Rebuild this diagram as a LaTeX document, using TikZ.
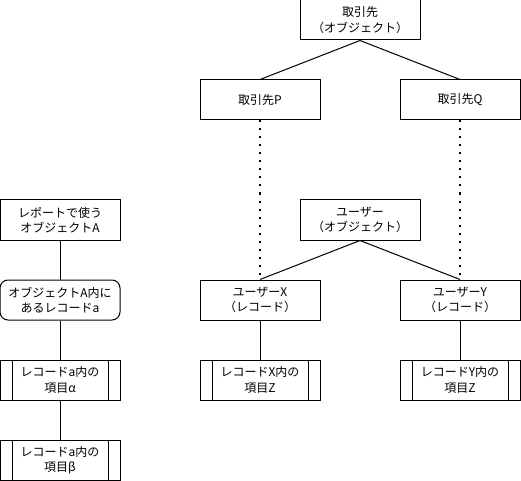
\documentclass[tikz,border=0pt]{standalone}
\usepackage{fontspec}
\setmainfont{Noto Sans CJK JP}
\usetikzlibrary{positioning}

\tikzset{
  box/.style={draw,line width=0.75pt,minimum width=90pt,minimum height=30pt,
    inner sep=0pt,align=center,font=\fontsize{9}{11.5}\selectfont},
  rbox/.style={box,rounded corners=6pt},
  procbox/.style={box,path picture={
      \draw[line width=0.75pt] ([xshift=9pt]path picture bounding box.north west)
        -- ([xshift=9pt]path picture bounding box.south west);
      \draw[line width=0.75pt] ([xshift=-9pt]path picture bounding box.north east)
        -- ([xshift=-9pt]path picture bounding box.south east);}},
  link/.style={line width=0.75pt},
  dotlink/.style={line width=1.5pt,dash pattern=on 1.5pt off 4.5pt}
}

\begin{document}
\begin{tikzpicture}[x=0.75pt,y=-0.75pt]
  \useasboundingbox (0,0) rectangle (521,481);
  % left column: report object down to its items
  \node[box] (repA) at (60,220) {レポートで使う\\オブジェクトA};
  \node[rbox] (recA) at (60,300) {オブジェクトA内に\\あるレコードa};
  \node[procbox] (itemAl) at (60,380) {レコードa内の\\項目α};
  \node[procbox] (itemBe) at (60,460) {レコードa内の\\項目β};
  \draw[link] (repA) -- (recA);
  \draw[link] (recA) -- (itemAl);
  \draw[link] (itemAl) -- (itemBe);
  % accounts
  \node[box] (acct) at (360,20) {取引先\\（オブジェクト）};
  \node[box] (acctP) at (260,100) {取引先P};
  \node[box] (acctQ) at (460,100) {取引先Q};
  \draw[link] (acct.south) -- (acctP.north);
  \draw[link] (acct.south) -- (acctQ.north);
  % users
  \node[box] (user) at (360,220) {ユーザー\\（オブジェクト）};
  \node[box] (userX) at (260,300) {ユーザーX\\（レコード）};
  \node[box] (userY) at (460,300) {ユーザーY\\（レコード）};
  \draw[link] (user.south) -- (userX.north);
  \draw[link] (user.south) -- (userY.north);
  % account <-> user relation
  \draw[dotlink] (acctP.south) -- (userX.north);
  \draw[dotlink] (acctQ.south) -- (userY.north);
  % items of the user records
  \node[procbox] (itemX) at (260,380) {レコードX内の\\項目Z};
  \node[procbox] (itemY) at (460,380) {レコードY内の\\項目Z};
  \draw[link] (userX) -- (itemX);
  \draw[link] (userY) -- (itemY);
\end{tikzpicture}
\end{document}
